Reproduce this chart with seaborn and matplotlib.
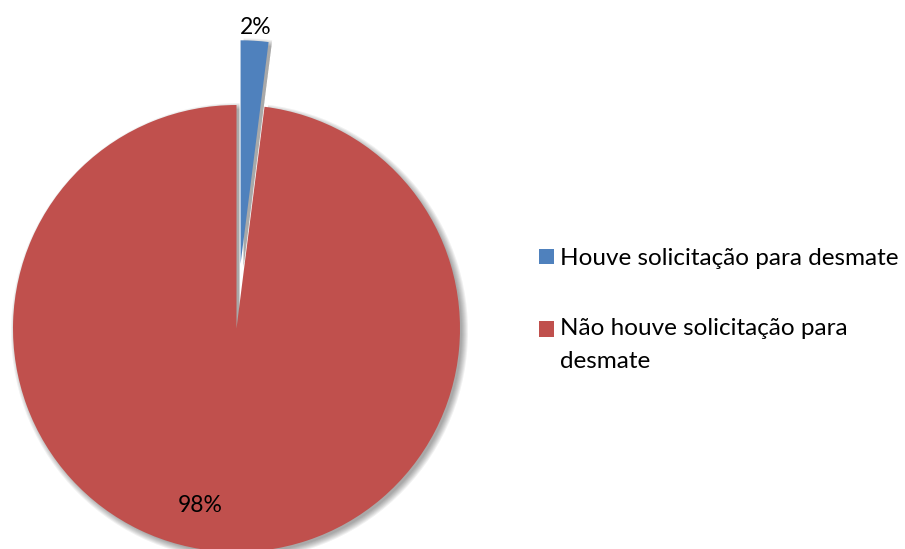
import numpy as np
import matplotlib
matplotlib.use("Agg")
import matplotlib.pyplot as plt
import seaborn as sns
from matplotlib.patches import Wedge, Rectangle
from matplotlib.legend_handler import HandlerPatch

# Chart data
categories = ["Houve solicitação para desmate", "Não houve solicitação para\ndesmate"]
values = [2, 98]
colors = ["#4F81BD", "#C0504D"]

sns.set_theme(style="white")
plt.rcParams["font.family"] = ["Lato", "DejaVu Sans"]
plt.rcParams["text.color"] = "black"

W, H, DPI = 905, 549, 100
fig = plt.figure(figsize=(W / DPI, H / DPI), dpi=DPI)
fig.patch.set_facecolor("white")

# axes spanning the figure; one data unit equals the pie radius in pixels
R_PX = 223.5
CX, CY = 236.5, 328.5
ax = fig.add_axes([0, 0, 1, 1])
explode = [0.29, 0.0]

wedges, _, autotexts = ax.pie(
    values, colors=colors, explode=explode, startangle=90, counterclock=False,
    autopct=lambda p: f"{p:.0f}%", pctdistance=1.06,
    wedgeprops=dict(linewidth=0), textprops=dict(fontsize=16.5, color="black"),
)
ax.set_xlim(-CX / R_PX, (W - CX) / R_PX)
ax.set_ylim(-(H - CY) / R_PX, CY / R_PX)
ax.set_aspect("auto")
ax.axis("off")

# soft drop shadow under each slice, offset down-right
px = 1.0 / R_PX
for w, z in zip(wedges, [4, 2]):
    w.set_zorder(z + 0.5)
    cx, cy = w.center
    for k in range(7):
        sh = Wedge((cx + 3 * px, cy - 3 * px), w.r + (k - 1) * px,
                   w.theta1, w.theta2, facecolor="black", edgecolor="none",
                   alpha=0.055, zorder=z)
        ax.add_patch(sh)

# place the large slice's percentage label lower-left of its centre
autotexts[1].set_position((-0.163, -0.790))
for t in autotexts:
    t.set_zorder(10)


def square_on_first_line(legend, orig_handle, xdescent, ydescent, width, height, fontsize):
    # keep the swatch level with the first line of a wrapped label
    return Rectangle((-xdescent, -ydescent + 11.5), width, height)


leg = fig.legend(
    wedges, categories, loc="upper left", bbox_to_anchor=(539 / W, 1 - 248 / H),
    frameon=False, fontsize=17.5, handlelength=0.6, handleheight=0.6,
    handletextpad=0.27, labelspacing=2.0, borderpad=0, borderaxespad=0,
    labelcolor="black",
    handler_map={wedges[1]: HandlerPatch(patch_func=square_on_first_line)},
)
for t in leg.get_texts():
    t.set_linespacing(1.75)

fig.savefig("out.png", dpi=DPI, facecolor="white")
